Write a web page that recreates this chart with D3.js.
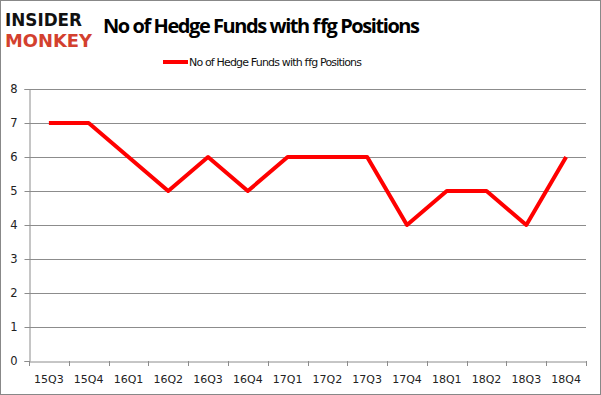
<!DOCTYPE html>
<html>
<head>
<meta charset="utf-8">
<script src="https://cdn.jsdelivr.net/npm/d3@7"></script>
<style>
  body { margin: 0; background: #fff; }
  svg { display: block; }
</style>
</head>
<body>
<div id="chart"></div>
<script>
// quarters and fund counts
const quarters = ["15Q3","15Q4","16Q1","16Q2","16Q3","16Q4","17Q1","17Q2","17Q3","17Q4","18Q1","18Q2","18Q3","18Q4"];
const funds = [7, 7, 6, 5, 6, 5, 6, 6, 6, 4, 5, 5, 4, 6];
const yTicks = [0, 1, 2, 3, 4, 5, 6, 7, 8];
const seriesName = "No of Hedge Funds with ffg Positions";

const W = 601, H = 395;
const margin = {top: 89, right: 15, bottom: 34, left: 29};

const svg = d3.select("#chart").append("svg")
  .attr("width", W).attr("height", H);

// outer frame
svg.append("rect")
  .attr("x", 0.5).attr("y", 0.5)
  .attr("width", W - 1).attr("height", H - 1)
  .attr("fill", "#fff").attr("stroke", "#888");

const x = d3.scaleBand()
  .domain(quarters)
  .range([margin.left, W - margin.right]);

const y = d3.scaleLinear()
  .domain([0, 8])
  .range([H - margin.bottom, margin.top]);

// gridlines
svg.append("g")
  .selectAll("line")
  .data(yTicks.filter(d => d > 0))
  .join("line")
  .attr("x1", margin.left).attr("x2", W - margin.right)
  .attr("y1", d => Math.round(y(d)) + 0.5).attr("y2", d => Math.round(y(d)) + 0.5)
  .attr("stroke", "#8c8c8c");

// y axis
const yAxis = svg.append("g")
  .attr("transform", `translate(${margin.left + 0.5},0)`)
  .call(d3.axisLeft(y).tickValues(yTicks).tickSize(5).tickPadding(7));
yAxis.select(".domain").attr("stroke", "#8c8c8c");
yAxis.selectAll(".tick line").attr("stroke", "#8c8c8c");
yAxis.selectAll("text")
  .attr("fill", "#222").style("font-size", "11.5px")
  .style("font-family", "'DejaVu Sans', sans-serif");

// x axis, ticks on category boundaries
const xAxis = svg.append("g")
  .attr("transform", `translate(0,${Math.round(y(0)) + 0.5})`)
  .call(d3.axisBottom(x).tickSize(0).tickPadding(14));
xAxis.select(".domain").attr("stroke", "#8c8c8c");
xAxis.selectAll("text")
  .attr("fill", "#222").style("font-size", "11px")
  .style("font-family", "'DejaVu Sans', sans-serif");
svg.append("g")
  .selectAll("line")
  .data(quarters.concat([null]))
  .join("line")
  .attr("x1", (d, i) => Math.round(margin.left + i * x.step()) + 0.5)
  .attr("x2", (d, i) => Math.round(margin.left + i * x.step()) + 0.5)
  .attr("y1", y(0)).attr("y2", y(0) + 5)
  .attr("stroke", "#8c8c8c");

// series line
const line = d3.line()
  .x((d, i) => x(quarters[i]) + x.bandwidth() / 2)
  .y(d => y(d));

svg.append("path")
  .datum(funds)
  .attr("d", line)
  .attr("fill", "none")
  .attr("stroke", "#ff0000")
  .attr("stroke-width", 4)
  .attr("stroke-linejoin", "round");

// title
svg.append("text")
  .attr("x", 103).attr("y", 33)
  .style("font-family", "'Open Sans', sans-serif")
  .style("font-weight", "bold")
  .style("font-size", "20px")
  .attr("textLength", 317)
  .attr("fill", "#000")
  .text(seriesName);

// legend
svg.append("line")
  .attr("x1", 163).attr("x2", 188)
  .attr("y1", 62).attr("y2", 62)
  .attr("stroke", "#ff0000").attr("stroke-width", 4);
svg.append("text")
  .attr("x", 189).attr("y", 66)
  .style("font-family", "'DejaVu Sans', sans-serif")
  .style("font-size", "11px")
  .attr("textLength", 173)
  .attr("fill", "#111")
  .text(seriesName);

// logo
svg.append("text")
  .attr("x", 5).attr("y", 26)
  .style("font-family", "'DejaVu Sans', sans-serif")
  .style("font-weight", "bold")
  .style("font-size", "17px")
  .attr("textLength", 77).attr("lengthAdjust", "spacingAndGlyphs")
  .attr("fill", "#111")
  .text("INSIDER");
svg.append("text")
  .attr("x", 5).attr("y", 47)
  .style("font-family", "'DejaVu Sans', sans-serif")
  .style("font-weight", "bold")
  .style("font-size", "17px")
  .attr("textLength", 87).attr("lengthAdjust", "spacingAndGlyphs")
  .attr("fill", "#d3402e")
  .text("MONKEY");
</script>
</body>
</html>
